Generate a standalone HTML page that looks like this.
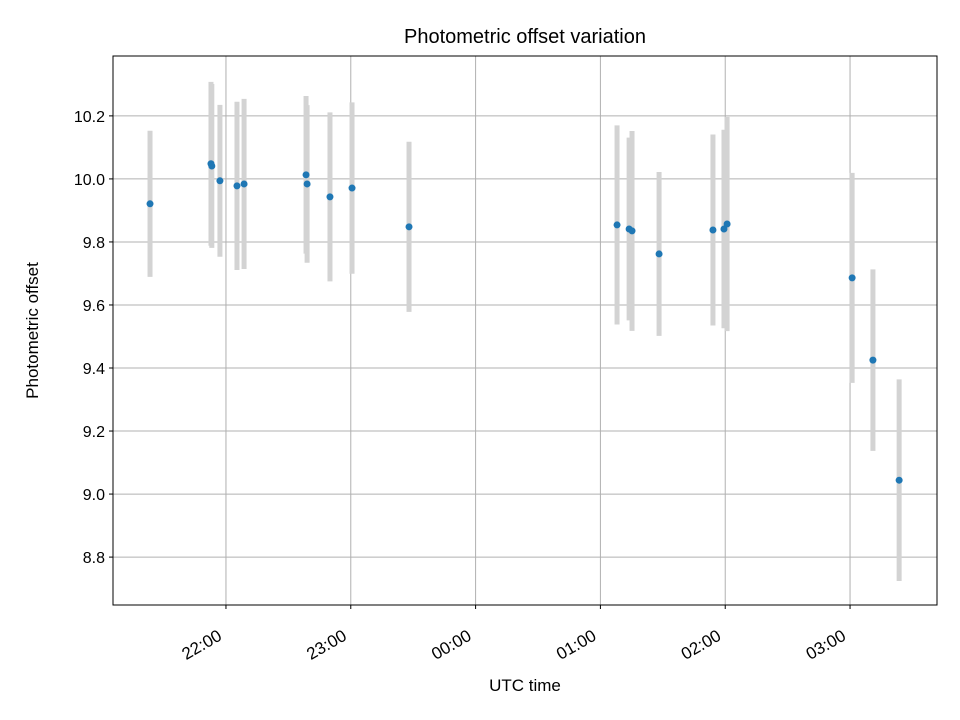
<!DOCTYPE html>
<html><head><meta charset="utf-8"><style>body{margin:0;background:#fff}svg{display:block;font-family:"Liberation Sans","DejaVu Sans",sans-serif}</style></head>
<body>
<svg id="chart" width="960" height="720" viewBox="0 0 960 720"></svg>
<script>
// minutes relative to 22:00 UTC
const times=[-36.5,-7.2,-6.8,-2.9,5.3,8.7,38.5,39,50,60.6,88,188,193.8,195.2,208.2,234.1,239.4,240.9,301,311,323.6];
const values=[9.921,10.048,10.041,9.994,9.978,9.984,10.013,9.984,9.943,9.971,9.848,9.854,9.841,9.835,9.762,9.838,9.841,9.857,9.686,9.425,9.044];
const errors=[0.232,0.26,0.26,0.241,0.267,0.27,0.25,0.25,0.268,0.272,0.27,0.316,0.29,0.317,0.26,0.303,0.315,0.34,0.333,0.288,0.32];
const xTicks=[0,60,120,180,240,300];
const xTickLabels=["22:00","23:00","00:00","01:00","02:00","03:00"];
const yTicks=[8.8,9.0,9.2,9.4,9.6,9.8,10.0,10.2];
const yTickLabels=["8.8","9.0","9.2","9.4","9.6","9.8","10.0","10.2"];

const L=113,R=937,T=56,B=605,xMin=-54.3,xMax=341.8,yMin=8.648,yMax=10.390;
const sx=v=>L+(v-xMin)/(xMax-xMin)*(R-L);
const sy=v=>B-(v-yMin)/(yMax-yMin)*(B-T);
const svg=document.getElementById('chart');
const NS='http://www.w3.org/2000/svg';
function mk(tag,attrs,parent){const e=document.createElementNS(NS,tag);for(const k in attrs)e.setAttribute(k,attrs[k]);(parent||svg).appendChild(e);return e;}

const grid=mk('g',{});


xTicks.forEach((t,i)=>{
  const x=sx(t);
  const g=mk('line',{x1:x,x2:x,y1:T,y2:B,stroke:'#b0b0b0','stroke-width':1},grid);
  
  
  const tk=mk('line',{x1:x,x2:x,y1:B,y2:B+4,stroke:'#000','stroke-width':1});
  
  
  const lb=mk('text',{x:0,y:0,'font-size':17,'text-anchor':'end',transform:`translate(${x-3},${B+34}) rotate(-30)`});
  lb.textContent=xTickLabels[i];
  
  
});
yTicks.forEach((t,i)=>{
  const y=sy(t);
  const g=mk('line',{x1:L,x2:R,y1:y,y2:y,stroke:'#b0b0b0','stroke-width':1},grid);
  
  
  const tk=mk('line',{x1:L-4,x2:L,y1:y,y2:y,stroke:'#000','stroke-width':1});
  
  
  const lb=mk('text',{x:L-8,y:y+6,'font-size':16,'text-anchor':'end'});
  lb.textContent=yTickLabels[i];
  
  
});
times.forEach((t,i)=>{
  const x=sx(t);
  const e=mk('line',{x1:x,x2:x,y1:sy(values[i]+errors[i]),y2:sy(values[i]-errors[i]),stroke:'#d3d3d3','stroke-width':5});
  
  
});
times.forEach((t,i)=>{
  const p=mk('circle',{cx:sx(t),cy:sy(values[i]),r:3.5,fill:'#1f77b4'});
  
  
});
const fr=mk('rect',{x:L,y:T,width:R-L,height:B-T,fill:'none',stroke:'#000','stroke-width':1});


const ti=mk('text',{x:(L+R)/2,y:43,'font-size':20,'text-anchor':'middle'});
ti.textContent='Photometric offset variation';


const xt=mk('text',{x:(L+R)/2,y:691,'font-size':17,'text-anchor':'middle'});
xt.textContent='UTC time';


const yt=mk('text',{x:0,y:0,'font-size':17,'text-anchor':'middle',transform:`translate(38,${(T+B)/2}) rotate(-90)`});
yt.textContent='Photometric offset';


</script>
</body></html>
